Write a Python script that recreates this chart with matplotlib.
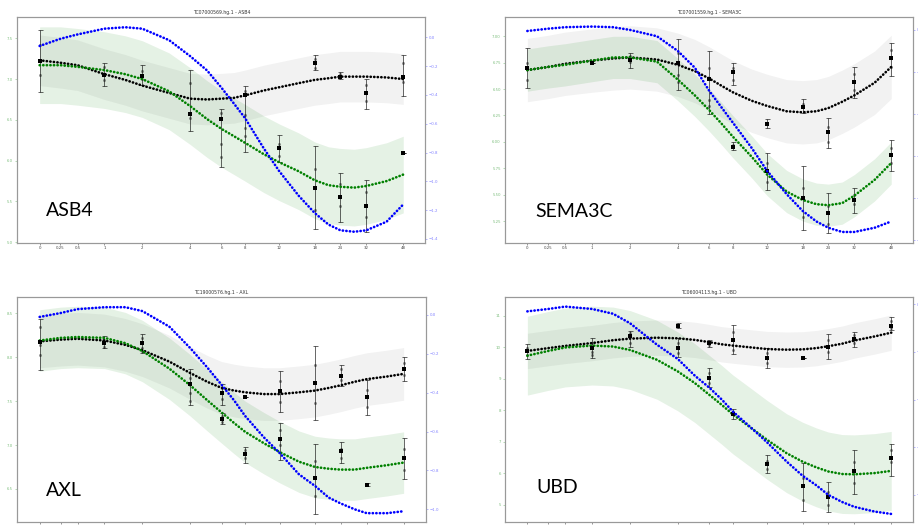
import numpy as np
import matplotlib
matplotlib.use('Agg')
import matplotlib.pyplot as plt

# tempi di campionamento (ore) e punti delle curve di fit
times = [0, 0.25, 0.5, 1, 2, 4, 6, 8, 12, 18, 24, 32, 48]
time_labels = ['0', '0.25', '0.5', '1', '2', '4', '6', '8', '12', '18', '24', '32', '48']
fit_times = [0, 0.25, 0.5, 1, 1.5, 2, 3, 4, 5, 6, 7, 8, 10, 12, 15, 18, 21, 24, 28, 32, 40, 48]

# ---- ASB4 ----
asb4_black = [7.23, 7.20, 7.17, 7.06, 6.99, 6.92, 6.83, 6.76, 6.75, 6.76, 6.77, 6.80, 6.86, 6.90, 6.95, 6.99, 7.01, 7.03, 7.03, 7.03, 7.02, 7.00]
asb4_green = [7.17, 7.17, 7.15, 7.11, 7.06, 7.00, 6.85, 6.67, 6.51, 6.39, 6.30, 6.22, 6.08, 5.98, 5.87, 5.76, 5.70, 5.68, 5.67, 5.69, 5.75, 5.83]
asb4_blue = [-0.06, -0.01, 0.02, 0.06, 0.07, 0.06, -0.02, -0.13, -0.23, -0.35, -0.46, -0.56, -0.77, -0.93, -1.10, -1.22, -1.30, -1.34, -1.35, -1.34, -1.28, -1.16]
asb4_grey_sd = 0.31
asb4_green_sd = 0.47
asb4_t = [0, 1, 2, 4, 6, 8, 12, 18, 18, 24, 24, 32, 32, 48, 48]
asb4_mean = [7.22, 7.05, 7.04, 6.57, 6.51, 6.80, 6.15, 7.20, 5.67, 7.03, 5.55, 6.83, 5.44, 7.02, 6.09]
asb4_lo = [6.84, 6.92, 6.93, 6.36, 5.92, 6.11, 5.99, 7.11, 5.16, 7.00, 5.25, 6.63, 5.12, 6.79, 6.09]
asb4_hi = [7.60, 7.20, 7.17, 7.11, 6.63, 6.92, 6.31, 7.29, 6.18, 7.09, 5.85, 7.00, 5.76, 7.30, 6.09]
asb4_reps = [[7.42, 7.05], [7.15, 6.99], [7.10, 7.00], [6.95, 6.52], [6.58, 6.21, 6.05], [6.85, 6.56, 6.40, 6.30],
             [6.20, 6.06], [7.25, 7.14], [5.90, 5.39], [7.06], [5.71, 5.45], [6.93, 6.73], [5.62, 5.31], [7.20, 6.96], []]

# ---- SEMA3C ----
sema_black = [6.68, 6.71, 6.74, 6.77, 6.79, 6.80, 6.78, 6.73, 6.67, 6.60, 6.53, 6.47, 6.39, 6.34, 6.29, 6.28, 6.29, 6.32, 6.38, 6.44, 6.56, 6.71]
sema_green = [6.68, 6.71, 6.73, 6.77, 6.80, 6.80, 6.76, 6.59, 6.44, 6.30, 6.17, 6.05, 5.86, 5.69, 5.53, 5.45, 5.41, 5.40, 5.42, 5.49, 5.64, 5.80]
sema_blue = [-0.005, 0.006, 0.013, 0.016, 0.013, 0.0, -0.03, -0.10, -0.18, -0.29, -0.37, -0.44, -0.56, -0.67, -0.78, -0.86, -0.91, -0.94, -0.96, -0.96, -0.94, -0.91]
sema_grey_sd = 0.30
sema_green_sd = 0.20
sema_t = [0, 1, 2, 4, 6, 8, 8, 12, 12, 18, 18, 24, 24, 32, 32, 48, 48]
sema_mean = [6.70, 6.75, 6.78, 6.75, 6.60, 6.66, 5.95, 6.17, 5.72, 6.33, 5.47, 6.09, 5.33, 6.57, 5.45, 6.79, 5.88]
sema_lo = [6.51, 6.75, 6.70, 6.49, 6.26, 6.54, 5.92, 6.13, 5.54, 6.27, 5.17, 5.94, 5.14, 6.42, 5.33, 6.62, 5.72]
sema_hi = [6.89, 6.75, 6.84, 6.97, 6.86, 6.75, 6.00, 6.22, 5.89, 6.41, 5.77, 6.23, 5.52, 6.71, 5.56, 6.94, 6.02]
sema_reps = [[6.75, 6.59], [], [6.81, 6.76], [6.84, 6.63, 6.57], [6.70, 6.40, 6.34], [6.70, 6.59], [5.97], [6.18],
             [5.80, 5.62], [6.36], [5.56, 5.29], [6.14, 6.00], [5.39, 5.22], [6.64, 6.49], [5.50, 5.41], [6.87, 6.71], [5.94, 5.80]]

# ---- AXL ----
axl_black = [8.18, 8.20, 8.21, 8.19, 8.14, 8.08, 7.95, 7.82, 7.72, 7.65, 7.62, 7.60, 7.58, 7.58, 7.60, 7.62, 7.65, 7.68, 7.72, 7.75, 7.78, 7.81]
axl_green = [8.19, 8.22, 8.23, 8.22, 8.16, 8.07, 7.87, 7.68, 7.51, 7.37, 7.25, 7.15, 7.02, 6.92, 6.81, 6.75, 6.73, 6.72, 6.72, 6.74, 6.77, 6.80]
axl_blue = [-0.01, 0.01, 0.03, 0.04, 0.04, 0.02, -0.06, -0.17, -0.27, -0.36, -0.44, -0.52, -0.63, -0.71, -0.82, -0.88, -0.94, -0.97, -1.00, -1.02, -1.02, -1.01]
axl_grey_sd = 0.30
axl_green_sd = 0.35
axl_t = [0, 1, 2, 4, 6, 6, 8, 8, 12, 12, 18, 18, 24, 24, 32, 32, 48, 48]
axl_mean = [8.17, 8.16, 8.16, 7.70, 7.59, 7.30, 7.55, 6.90, 7.61, 7.07, 7.71, 6.62, 7.79, 6.93, 7.55, 6.55, 7.87, 6.85]
axl_lo = [7.85, 8.10, 8.05, 7.45, 7.46, 7.24, 7.55, 6.80, 7.38, 6.83, 7.29, 6.22, 7.67, 6.79, 7.34, 6.53, 7.73, 6.61]
axl_hi = [8.44, 8.24, 8.26, 7.87, 7.70, 7.36, 7.55, 6.98, 7.84, 7.25, 8.13, 7.01, 7.91, 7.04, 7.74, 6.57, 8.00, 7.08]
axl_reps = [[8.34, 8.03, 8.14], [8.20, 8.12], [8.22, 8.07, 8.10], [7.76, 7.59, 7.50], [7.65, 7.52], [7.33, 7.26], [],
            [6.94, 6.85], [7.73, 7.49], [7.17, 7.00], [7.91, 7.48], [6.82, 6.42], [7.86, 7.74], [6.96, 6.85],
            [7.63, 7.43], [], [7.93, 7.80], [6.96, 6.72]]

# ---- UBD ----
ubd_black = [9.88, 9.97, 10.04, 10.13, 10.22, 10.27, 10.30, 10.28, 10.23, 10.16, 10.09, 10.05, 9.99, 9.94, 9.92, 9.93, 9.97, 10.03, 10.11, 10.21, 10.34, 10.46]
ubd_green = [9.73, 9.88, 9.99, 10.05, 10.02, 9.91, 9.60, 9.23, 8.86, 8.49, 8.17, 7.87, 7.43, 7.06, 6.64, 6.37, 6.19, 6.06, 5.98, 5.97, 6.01, 6.08]
ubd_blue = [-0.03, -0.02, -0.01, -0.02, -0.04, -0.08, -0.17, -0.23, -0.30, -0.35, -0.40, -0.45, -0.52, -0.58, -0.66, -0.72, -0.76, -0.80, -0.83, -0.85, -0.87, -0.88]
ubd_grey_sd = 0.56
ubd_green_sd = 1.25
ubd_t = [0, 1, 2, 4, 4, 6, 6, 8, 8, 12, 12, 18, 18, 24, 24, 32, 32, 48, 48]
ubd_mean = [9.88, 9.97, 10.34, 10.66, 9.97, 10.12, 9.01, 10.23, 7.88, 9.65, 6.30, 9.65, 5.60, 10.02, 5.26, 10.26, 6.06, 10.68, 6.50]
ubd_lo = [9.62, 9.65, 10.02, 10.60, 9.70, 10.02, 8.75, 9.78, 7.73, 9.33, 6.00, 9.65, 4.81, 9.62, 4.77, 10.00, 5.35, 10.55, 5.93]
ubd_hi = [10.10, 10.28, 10.51, 10.76, 10.28, 10.23, 9.33, 10.70, 8.04, 9.97, 6.59, 9.65, 6.32, 10.41, 5.72, 10.49, 6.74, 10.95, 6.92]
ubd_reps = [[9.97, 9.75], [10.12, 9.84, 9.75], [10.44, 10.12], [10.70], [10.12, 9.81], [10.07], [9.17, 8.86],
            [10.49, 9.91], [7.95], [9.81, 9.49], [6.39, 6.14], [], [5.85, 5.16], [10.23, 9.84], [5.42, 5.00],
            [10.37, 10.12], [6.37, 5.69], [10.83, 10.60], [6.74, 6.35]]

W, H = 918, 525


# scala dell'asse dei tempi: log2(t + 1)
def fwd(t):
    t = np.asarray(t, dtype=float)
    with np.errstate(invalid='ignore', divide='ignore'):
        return np.log2(t + 1)


def inv(u):
    return np.power(2.0, np.asarray(u, dtype=float)) - 1


def dotted(ax, x, y, color):
    ax.plot(x, y, color=color, lw=1.9, ls=(0, (0.1, 1.25)), dash_capstyle='round', zorder=4)


def draw_panel(box, title, name, name_xy, black, green, blue, grey_sd, green_sd,
               t, mean, lo, hi, reps, ylim, yticks, ylim2, yticks2, show_xlabels=True):
    l, tp, r, b = box
    ax = fig.add_axes([l / W, 1 - b / H, (r - l) / W, (b - tp) / H])
    ax.set_xscale('function', functions=(fwd, inv))
    black = np.array(black)
    green = np.array(green)
    # bande di confidenza
    ax.fill_between(fit_times, black - grey_sd, black + grey_sd, color='grey', alpha=0.1, lw=0, zorder=1)
    ax.fill_between(fit_times, green - green_sd, green + green_sd, color='green', alpha=0.1, lw=0, zorder=1)
    # dati sperimentali
    mean = np.array(mean)
    yerr = [mean - np.array(lo), np.array(hi) - mean]
    ax.errorbar(t, mean, yerr=yerr, fmt='none', ecolor='k', alpha=0.6, capsize=1.8,
                elinewidth=0.7, capthick=0.7, zorder=3)
    rx = [tt for tt, rr in zip(t, reps) for _ in rr]
    ry = [v for rr in reps for v in rr]
    ax.plot(rx, ry, 'o', color='k', alpha=0.4, ms=2.2, mew=0, zorder=3)
    ax.plot(t, mean, 's', color='k', ms=2.5, mew=0, zorder=5)
    dotted(ax, fit_times, black, 'black')
    dotted(ax, fit_times, green, 'green')

    ax.set_xlim(inv(-0.345), inv(5.955))
    ax.set_xticks(times)
    ax.set_xticklabels(time_labels if show_xlabels else [])
    ax.set_ylim(ylim)
    ax.set_yticks(yticks)
    ax.tick_params(axis='x', colors='#444444', labelsize=2.8, length=1.5, width=0.4, pad=1.2)
    ax.tick_params(axis='y', colors='#7fbf7f', labelsize=2.8, length=1.5, width=0.4, pad=1.5)
    ax.set_title(title, fontsize=3.3, pad=2.2, color='#333333')

    ax2 = ax.twinx()
    dotted(ax2, fit_times, blue, 'blue')
    ax2.set_ylim(ylim2)
    ax2.set_yticks(yticks2)
    ax2.tick_params(axis='y', colors='#8080ff', labelsize=2.8, length=1.5, width=0.4, pad=1.2)
    for a in (ax, ax2):
        for s in a.spines.values():
            s.set_color('#999999')
            s.set_linewidth(0.8)

    fig.text(name_xy[0] / W, 1 - name_xy[1] / H, name, fontsize=14, family='Lato',
             ha='left', va='baseline', color='black')


fig = plt.figure(figsize=(W / 100, H / 100), dpi=100)

draw_panel((17.3, 17.3, 425.3, 242.7), 'TC07000569.hg.1 - ASB4', 'ASB4', (46, 216),
           asb4_black, asb4_green, asb4_blue, asb4_grey_sd, asb4_green_sd,
           asb4_t, asb4_mean, asb4_lo, asb4_hi, asb4_reps,
           (4.995, 7.757), [5.0, 5.5, 6.0, 6.5, 7.0, 7.5],
           (-1.426, 0.139), [-1.4, -1.2, -1.0, -0.8, -0.6, -0.4, -0.2, 0.0])

draw_panel((505, 17.3, 913.3, 242.7), 'TC07001559.hg.1 - SEMA3C', 'SEMA3C', (535, 216.7),
           sema_black, sema_green, sema_blue, sema_grey_sd, sema_green_sd,
           sema_t, sema_mean, sema_lo, sema_hi, sema_reps,
           (5.045, 7.18), [5.25, 5.5, 5.75, 6.0, 6.25, 6.5, 6.75, 7.0],
           (-1.011, 0.060), [-1.0, -0.8, -0.6, -0.4, -0.2, 0.0])

# i pannelli in basso sono tagliati: le etichette dei tempi non si vedono
draw_panel((17.3, 297.3, 425.7, 522.3), 'TC19000576.hg.1 - AXL', 'AXL', (46, 496),
           axl_black, axl_green, axl_blue, axl_grey_sd, axl_green_sd,
           axl_t, axl_mean, axl_lo, axl_hi, axl_reps,
           (6.12, 8.682), [6.5, 7.0, 7.5, 8.0, 8.5],
           (-1.067, 0.091), [-1.0, -0.8, -0.6, -0.4, -0.2, 0.0], show_xlabels=False)

draw_panel((505, 297.3, 913.3, 522.3), 'TC06004113.hg.1 - UBD', 'UBD', (536, 492.7),
           ubd_black, ubd_green, ubd_blue, ubd_grey_sd, ubd_green_sd,
           ubd_t, ubd_mean, ubd_lo, ubd_hi, ubd_reps,
           (4.45, 11.58), [5, 6, 7, 8, 9, 10, 11],
           (-0.915, 0.029), [-0.8, -0.6, -0.4, -0.2, 0.0], show_xlabels=False)

fig.savefig('out.png', dpi=100)
